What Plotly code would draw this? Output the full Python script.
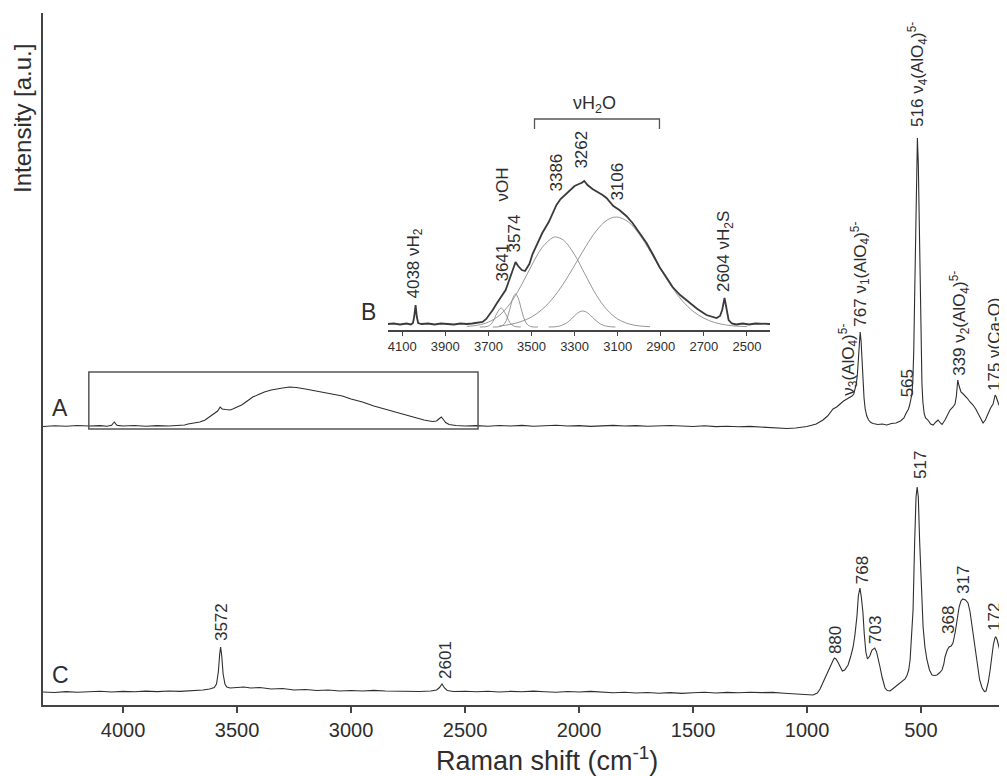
import plotly.graph_objects as go

# ---------------- data ----------------
# Spectrum A (intensity above its own baseline, a.u.)
A_x = [4351, 4300, 4250, 4200, 4150, 4100, 4070, 4050, 4044, 4038, 4032, 4025, 4000, 3950, 3900, 3850,
       3800, 3760, 3730, 3715, 3690, 3663, 3640, 3620, 3600, 3585, 3574, 3565, 3550, 3530, 3519, 3500,
       3480, 3455, 3431, 3400, 3380, 3350, 3330, 3300, 3270, 3240, 3200, 3150, 3100, 3070, 3038, 3000,
       2950, 2900, 2870, 2830, 2788, 2750, 2720, 2680, 2644, 2625, 2615, 2604, 2595, 2585, 2570, 2540,
       2500, 2450, 2400, 2350, 2300, 2250, 2200, 2150, 2100, 2050, 2000, 1950, 1900, 1850, 1800, 1750,
       1700, 1650, 1600, 1550, 1500, 1450, 1400, 1350, 1300, 1250, 1200, 1150, 1100, 1088, 1050, 1000,
       960, 930, 910, 886, 870, 855, 840, 825, 803, 795, 790, 784, 779, 775, 771, 767, 763, 759, 755,
       750, 745, 738, 730, 720, 710, 690, 670, 650, 630, 610, 590, 575, 565, 555, 550, 545, 540, 536,
       532, 528, 524, 520, 516, 512, 508, 504, 500, 496, 492, 486, 480, 470, 458, 447, 435, 425, 415,
       408, 395, 385, 373, 360, 351, 345, 339, 333, 325, 315, 305, 298, 285, 272, 260, 250, 240, 228,
       218, 206, 195, 184, 178, 175, 170, 160, 150, 140, 123]
A_y = [-0.5, 0.3, -0.3, 0.5, 0, 0.4, -0.2, 0.8, 2.5, 4, 2.2, 0.6, 0, 0.5, -0.3, 0.4,
       0, 0.6, 1, 2, 3, 4, 6, 9, 12, 15, 19, 17, 16.5, 16, 17, 19,
       21, 25, 29, 32, 34, 36, 37, 38, 39, 38.5, 37, 35, 33, 31.5, 30, 27,
       24, 20, 18, 15.5, 13, 10, 8, 6, 4.5, 5, 7, 9, 6.5, 3.5, 1.5, 0.5,
       0, 0.4, -0.3, 0.5, 0, 0.6, -0.2, 0.3, 0.7, 0, 0.4, -0.4, 0.3, 0.6, 0, 0.4,
       -0.3, 0.2, 0.5, 0, -0.5, 0.3, -0.6, -0.2, -0.8, -0.4, -1, -1.5, -2.2, -2.5, -2, -0.5,
       2, 6, 10, 17, 19, 22, 25, 27, 30, 32, 36, 42, 52, 67, 85, 94, 85, 65, 44,
       28, 17, 10, 6, 3.5, 2.5, 1.5, 2, 1, 2.5, 3, 5, 8, 13, 17, 21, 26, 32, 45,
       75, 130, 200, 262, 288, 262, 200, 130, 75, 42, 24, 12, 8, 6, 2, 1, 4, 6, 3,
       1.5, 6, 11, 16, 19, 22, 30, 46, 40, 34, 32, 30, 28, 24, 21, 17, 13, 8, 3,
       6, 13, 18, 22, 27, 31, 29, 22, 18, 16, 14]

# Spectrum C (intensity above its own baseline, a.u.)
C_x = [4351, 4300, 4250, 4200, 4150, 4100, 4050, 4000, 3950, 3900, 3850, 3800, 3750, 3700, 3650, 3620,
       3600, 3590, 3582, 3576, 3572, 3567, 3561, 3553, 3545, 3530, 3500, 3470, 3440, 3400, 3350, 3300,
       3250, 3200, 3150, 3100, 3050, 3000, 2950, 2900, 2850, 2800, 2750, 2700, 2650, 2625, 2612, 2601,
       2590, 2578, 2550, 2500, 2450, 2400, 2350, 2300, 2250, 2200, 2150, 2100, 2050, 2000, 1950, 1900,
       1850, 1800, 1750, 1700, 1650, 1600, 1550, 1500, 1450, 1400, 1350, 1300, 1250, 1200, 1150, 1100,
       1050, 1000, 974, 955, 943, 925, 912, 899, 885, 880, 873, 865, 855, 845, 835, 820, 808, 798,
       790, 781, 775, 768, 762, 755, 749, 742, 735, 725, 715, 703, 695, 689, 680, 671, 665, 658,
       648, 636, 625, 614, 600, 583, 570, 561, 554, 548, 541, 535, 528, 522, 517, 512, 506, 499,
       491, 483, 474, 463, 452, 440, 430, 420, 408, 400, 395, 385, 377, 368, 360, 350, 342, 333,
       325, 317, 305, 294, 285, 276, 265, 254, 243, 232, 222, 215, 205, 197, 190, 183, 176, 172,
       166, 160, 154, 148, 141, 130, 123]
C_y = [0, -0.5, 0.4, -0.3, 0.3, 0.8, 0, 0.6, 0.2, 0.9, 0.4, 1, 0.6, 1.2, 2, 3,
       4.5, 8, 20, 38, 45, 36, 18, 8, 5, 4, 4.5, 5, 4, 4.5, 3, 3.5,
       2, 2.5, 1.5, 2, 1, 1.5, 1, 1.6, 1, 0.8, 1.3, 0.5, 1, 2, 4.5, 8,
       4, 1.5, 0.5, 0.8, 0.3, 0.8, 0, 0.6, 0.2, 0.9, 0.3, -0.2, 0.5, 0, 0.6, -0.3,
       -0.8, -0.2, -1, -0.5, -1.2, -0.6, -1.4, -0.8, -0.3, -1, -0.4, -0.8, -0.2, -0.6, -0.4, -1.2,
       -2, -2.8, -3, -1, 3, 12, 19, 25, 32, 34, 33, 30, 26, 21, 22, 27, 36, 45,
       57, 76, 96, 104, 95, 80, 58, 40, 33, 36, 42, 44, 40, 35, 25, 15, 9, 4,
       1.5, 1, 3, 5, 7, 10, 13, 17, 22, 32, 55, 82, 150, 195, 205, 195, 150, 100,
       65, 45, 32, 22, 17, 16.5, 17, 19, 22, 28, 35, 42, 45, 46, 49, 60, 72, 85,
       91, 93, 92, 89, 80, 65, 45, 25, 12, 4, 0.5, 1, 10, 22, 35, 47, 54, 55,
       52, 46, 39, 33, 29, 25, 22]

# Inset B: measured envelope and fitted components
B_x = [4166, 4140, 4110, 4080, 4060, 4050, 4044, 4038, 4032, 4026, 4010, 3980, 3950, 3920, 3890, 3860,
       3830, 3800, 3775, 3750, 3727, 3710, 3695, 3680, 3660, 3641, 3620, 3600, 3585, 3574, 3562, 3545,
       3530, 3510, 3495, 3475, 3450, 3420, 3400, 3384, 3365, 3350, 3323, 3300, 3280, 3268, 3255, 3240,
       3217, 3190, 3170, 3152, 3135, 3120, 3092, 3060, 3031, 3000, 2966, 2935, 2906, 2875, 2845, 2810,
       2767, 2730, 2688, 2660, 2641, 2625, 2615, 2604, 2594, 2585, 2570, 2550, 2520, 2490, 2460, 2430, 2393]
B_y = [6, 6.5, 5.5, 6.5, 5.5, 7, 14, 25, 13, 7, 6, 6.5, 5.5, 6.5, 6, 5.5,
       6.5, 6, 6.5, 7, 8, 11, 15, 20, 27, 33, 40, 52, 62, 68, 64, 60,
       59, 66, 76, 86, 97, 108, 118, 125, 131, 134, 140, 144, 146, 147, 149, 145,
       141, 138, 135, 132, 128, 124, 120, 114, 107, 98, 87, 75, 63, 53, 43, 35,
       27, 21, 15, 13, 12, 14, 20, 32, 20, 10, 6.5, 5.5, 6.5, 5.5, 6.5, 6, 6]

comp3386_x = [3800, 3750, 3700, 3650, 3600, 3550, 3500, 3450, 3400, 3386, 3350, 3300, 3250, 3200, 3150, 3100, 3050, 3000, 2950]
comp3386_y = [3.6, 4.8, 7.9, 14.5, 26.2, 43.6, 64.3, 82.7, 92.5, 93, 89.6, 75.3, 55.1, 35.3, 20.3, 11, 6.2, 4.1, 3.3]

comp3106_x = [3650, 3600, 3550, 3500, 3450, 3400, 3350, 3300, 3250, 3200, 3150, 3105, 3050, 3000, 2950,
              2900, 2850, 2800, 2750, 2700, 2650, 2600, 2550, 2500]
comp3106_y = [4, 5.5, 8.3, 13, 20.7, 32, 46.9, 64.6, 82.9, 99, 109.8, 113, 108, 95.8, 78.9,
              60.4, 43.4, 29.2, 18.7, 11.8, 7.5, 5.1, 3.9, 3.4]

comp3262_x = [3420, 3370, 3330, 3300, 3280, 3262, 3240, 3210, 3180, 3150, 3110]
comp3262_y = [3, 3.9, 8.1, 14.2, 17.8, 19, 17.2, 11.2, 6, 3.7, 3]

comp3574_x = [3680, 3640, 3620, 3600, 3585, 3574, 3560, 3545, 3525, 3505, 3470]
comp3574_y = [3, 3.8, 8.2, 21.3, 32.7, 36, 30.8, 18.9, 7.1, 3.5, 3]

comp3641_x = [3740, 3700, 3680, 3660, 3641, 3620, 3600, 3580, 3550]
comp3641_y = [3, 3.9, 8.1, 16.9, 22, 15.9, 7.4, 3.75, 3]

main_tickvals = [4000, 3500, 3000, 2500, 2000, 1500, 1000, 500]
inset_tickvals = [4100, 3900, 3700, 3500, 3300, 3100, 2900, 2700, 2500]

# ---------------- figure ----------------
# The page body keeps the browser's 8 px margin, so the figure is 8 px smaller
# than the 1007x776 window and everything is laid out in window pixels.
PAGE = 8
W, H = 1007 - PAGE, 776 - PAGE
ML, MT = 43 - PAGE, 13 - PAGE
MR = 0
MB = H - (705 - PAGE)
PW, PH = W - ML - MR, H - MT - MB
OFF_A, OFF_C = 279, 13          # vertical stacking offsets of the spectra
INK = "#2e2e2e"
FONT = "Liberation Sans, Arial, sans-serif"

def px_x(p):  # window pixel -> paper fraction
    return (p - PAGE - ML) / PW

def px_y(p):
    return (H - MB - (p - PAGE)) / PH

fig = go.Figure()
fig.add_trace(go.Scatter(x=A_x, y=[v + OFF_A for v in A_y], mode="lines",
                         line=dict(color=INK, width=1.1), hoverinfo="skip"))
fig.add_trace(go.Scatter(x=C_x, y=[v + OFF_C for v in C_y], mode="lines",
                         line=dict(color=INK, width=1.1), hoverinfo="skip"))

for cx, cy in [(comp3386_x, comp3386_y), (comp3106_x, comp3106_y), (comp3262_x, comp3262_y),
               (comp3574_x, comp3574_y), (comp3641_x, comp3641_y)]:
    fig.add_trace(go.Scatter(x=cx, y=cy, mode="lines", xaxis="x2", yaxis="y2",
                             line=dict(color="#8a8a8a", width=0.9, shape="spline"), hoverinfo="skip"))
fig.add_trace(go.Scatter(x=B_x, y=B_y, mode="lines", xaxis="x2", yaxis="y2",
                         line=dict(color="#3a3a3a", width=1.8), hoverinfo="skip"))

# frame around the region shown in the inset
fig.add_shape(type="rect", x0=4150, x1=2443, y0=276, y1=333, xref="x", yref="y",
              line=dict(color="#555", width=1.5))

# bracket over the water band in the inset
fig.add_shape(type="path", xref="x2", yref="y2",
              path="M 3486 201 L 3486 211 L 2906 211 L 2906 201",
              line=dict(color="#555", width=1.3))

ann = []
def lab(text, x, y, size=17, xref="x", yref="y", angle=-90, xa="center", ya="bottom"):
    ann.append(dict(text=text, x=x, y=y, xref=xref, yref=yref, textangle=angle, showarrow=False,
                    xanchor=xa, yanchor=ya, borderpad=0,
                    font=dict(family=FONT, size=size, color=INK)))

# spectrum A labels
lab("516 ν<sub>4</sub>(AlO<sub>4</sub>)<sup>5-</sup>", 516, 577)
lab("767 ν<sub>1</sub>(AlO<sub>4</sub>)<sup>5-</sup>", 767, 377)
lab("ν<sub>3</sub>(AlO<sub>4</sub>)<sup>5-</sup>", 822, 308)
lab("565", 560, 307)
lab("339 ν<sub>2</sub>(AlO<sub>4</sub>)<sup>5-</sup>", 332, 328)
lab("175 ν(Ca-O)", 180, 313)
# spectrum C labels
lab("3572", 3570, 63)
lab("2601", 2588, 25)
lab("880", 877, 50)
lab("768", 758, 120)
lab("703", 702, 60)
lab("517", 505, 225)
lab("368", 382, 70)
lab("317", 316, 110)
lab("172", 180, 73)
# inset labels
lab("4038 νH<sub>2</sub>", 4043, 30, xref="x2", yref="y2")
lab("3641", 3639, 47, xref="x2", yref="y2")
lab("3574", 3579, 77, xref="x2", yref="y2")
lab("νOH", 3639, 127, xref="x2", yref="y2")
lab("3386", 3384, 138, xref="x2", yref="y2")
lab("3262", 3272, 160, xref="x2", yref="y2")
lab("3106", 3105, 128, xref="x2", yref="y2")
lab("2604 νH<sub>2</sub>S", 2604, 37, xref="x2", yref="y2")
lab("νH<sub>2</sub>O", 3207, 225, xref="x2", yref="y2", angle=0, ya="middle", size=18)
# panel letters
lab("A", 4276, 297, size=23, angle=0, ya="middle")
lab("B", 2925, 393, size=23, angle=0, ya="middle")
lab("C", 4276, 30, size=23, angle=0, ya="middle")
# axis titles
lab("Intensity [a.u.]", px_x(23), px_y(119), size=24, xref="paper", yref="paper", ya="middle")
lab("Raman shift (cm<sup>-1</sup>)", px_x(547), px_y(759), size=27, xref="paper", yref="paper",
    angle=0, ya="middle")

fig.update_layout(
    width=W, height=H, margin=dict(l=ML, r=MR, t=MT, b=MB),
    paper_bgcolor="white", plot_bgcolor="white", showlegend=False,
    font=dict(family=FONT, color=INK),
    annotations=ann,
    xaxis=dict(range=[4351, 123], tickvals=main_tickvals, ticks="outside", ticklen=6, tickwidth=2,
               tickcolor="#444", showline=True, linecolor="#444", linewidth=2, showgrid=False,
               zeroline=False, tickfont=dict(family=FONT, size=20, color=INK)),
    yaxis=dict(range=[0, 692], showline=True, linecolor="#444", linewidth=2, showgrid=False,
               zeroline=False, showticklabels=False, ticks=""),
    xaxis2=dict(domain=[px_x(388), px_x(770)], anchor="y2", range=[4166, 2393],
                tickvals=inset_tickvals, ticks="outside", ticklen=4, tickwidth=1.2, tickcolor="#444",
                showline=True, linecolor="#444", linewidth=1.5, showgrid=False, zeroline=False,
                tickfont=dict(family=FONT, size=13, color=INK)),
    yaxis2=dict(domain=[px_y(330), px_y(100)], anchor="x2", range=[0, 230], visible=False),
)

fig.write_html("out.html")
